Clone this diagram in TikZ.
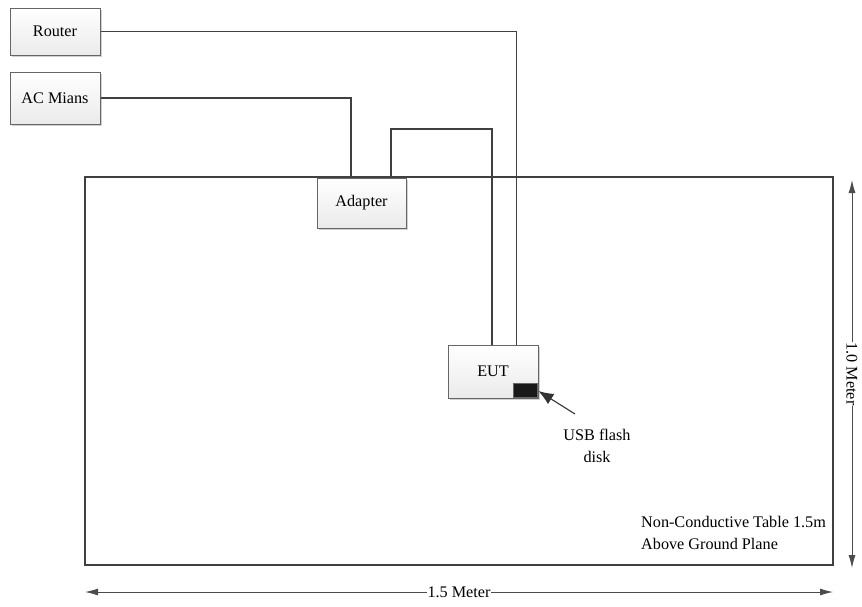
\documentclass[tikz,border=0pt]{standalone}
\usepackage{fontspec}
\setmainfont{Liberation Serif}
\usetikzlibrary{shadows,arrows.meta}
\begin{document}
\begin{tikzpicture}[x=1pt,y=-1pt,
  every node/.style={font=\fontsize{16.2}{22}\selectfont},
  box/.style={draw=black!60, line width=1pt, top color=white, bottom color=black!8,
    drop shadow={shadow xshift=2pt, shadow yshift=-2pt, fill=black!30, opacity=0.6},
    inner sep=0pt},
  wire/.style={draw=black!75, line width=1.1pt},
  dim/.style={draw=black!70, line width=0.9pt, {Latex[length=13pt,width=7pt]}-{Latex[length=13pt,width=7pt]}},
  lbl/.style={fill=white, inner sep=1pt}]
\useasboundingbox (0,0) rectangle (862,606);
% table
\node[draw=black!75, line width=2pt, minimum width=748pt, minimum height=388pt, inner sep=0pt] (table) at (459,371) {};
% boxes
\node[box, minimum width=90pt, minimum height=47pt] (router) at (55,31.5) {Router};
\node[box, minimum width=90pt, minimum height=52pt] (ac) at (55,98) {AC Mians};
\node[box, minimum width=89pt, minimum height=50pt] (adapter) at (361.5,203) {Adapter};
\node[box, minimum width=90pt, minimum height=53pt] (eut) at (493,371.5) {EUT};
\node[fill=black!90, draw=black!60, line width=0.8pt, minimum width=24pt, minimum height=14pt, inner sep=0pt] (usb) at (525,390) {};
% wires
\coordinate (abend) at (391,129);
\draw[wire, line width=0.9pt] (router.east) -| ([xshift=23pt]eut.north);
\draw[wire] (ac.east) -| ([xshift=-10.5pt]adapter.north);
\draw[wire] ([xshift=29.5pt]adapter.north) -- (abend) -| ([xshift=-1pt]eut.north);
% usb label and arrow
\node[align=center] (usblbl) at (597,446) {USB flash\\disk};
\coordinate (usbtail) at (575,414);
\draw[draw=black!80, line width=1.1pt, -{Latex[length=15pt,width=12pt]}] (usbtail) -- ([xshift=1pt,yshift=-1pt]usb.east);
% table label
\node[align=left, anchor=west, inner sep=0pt] (tlbl) at (641,533) {Non-Conductive Table 1.5m\\Above Ground Plane};
% dimensions
\coordinate (hl) at (85,592);
\coordinate (hr) at (833,592);
\draw[dim] (hl) -- node[lbl] (hlab) {1.5 Meter} (hr);
\coordinate (vt) at (852,180);
\coordinate (vb) at (852,568);
\draw[dim] (vt) -- node[lbl, rotate=-90] (vlab) {1.0 Meter} (vb);
\end{tikzpicture}
\end{document}
